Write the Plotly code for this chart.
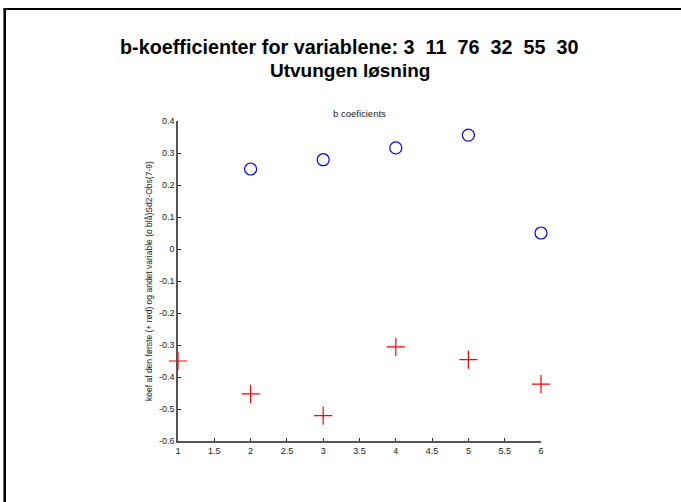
import plotly.graph_objects as go

x_circles = [2, 3, 4, 5, 6]
b_second = [0.25, 0.279, 0.316, 0.356, 0.05]
x_plus = [1, 2, 3, 4, 5, 6]
b_first = [-0.35, -0.453, -0.521, -0.306, -0.346, -0.422]

x_ticks = [1, 1.5, 2, 2.5, 3, 3.5, 4, 4.5, 5, 5.5, 6]
x_ticktext = ["1", "1.5", "2", "2.5", "3", "3.5", "4", "4.5", "5", "5.5", "6"]
y_ticks = [-0.6, -0.5, -0.4, -0.3, -0.2, -0.1, 0, 0.1, 0.2, 0.3, 0.4]
y_ticktext = ["-0.6", "-0.5", "-0.4", "-0.3", "-0.2", "-0.1", "0", "0.1", "0.2", "0.3", "0.4"]

title1 = "b-koefficienter for variablene: 3  11  76  32  55  30"
title2 = "Utvungen løsning"
subtitle = "b coeficients"
ylabel = "koef af den første (+ rød) og andet variable (o blå)Sd2-Obs(7-9)"

W, H = 681, 502
L, R, T, B = 178, 541, 121, 441

fig = go.Figure()
fig.add_trace(go.Scatter(
    x=x_circles, y=b_second, mode="markers", cliponaxis=False,
    marker=dict(symbol="circle-open", size=12, color="#0000ff", line=dict(width=1.2, color="#0000ff")),
    showlegend=False))
fig.add_trace(go.Scatter(
    x=x_plus, y=b_first, mode="markers", cliponaxis=False,
    marker=dict(symbol="cross-thin-open", size=13, color="#ff0000", line=dict(width=1.2, color="#ff0000")),
    showlegend=False))

font = "Liberation Sans, Arial, sans-serif"
axis_common = dict(showgrid=False, zeroline=False, showline=True, linecolor="#555555", linewidth=1.5,
                   ticks="inside", ticklen=3, tickcolor="#333333", tickwidth=1,
                   tickfont=dict(family=font, size=9, color="#222222"), mirror=False)

fig.update_xaxes(range=[1, 6], tickvals=x_ticks, ticktext=x_ticktext, **axis_common)
fig.update_yaxes(range=[-0.6, 0.4], tickvals=y_ticks, ticktext=y_ticktext, **axis_common)

pw, ph = R - L, B - T
def px_to_paper_x(p):
    return (p - L) / pw
def px_to_paper_y(p):
    return (B - p) / ph

fig.update_layout(
    width=W, height=H,
    margin=dict(l=L, r=W - R, t=T, b=H - B, pad=0),
    plot_bgcolor="white", paper_bgcolor="white",
    font=dict(family=font),
    shapes=[
        dict(type="line", xref="paper", yref="paper",
             x0=px_to_paper_x(4.7), x1=px_to_paper_x(W + 5), y0=px_to_paper_y(9), y1=px_to_paper_y(9),
             line=dict(color="black", width=2.2)),
        dict(type="line", xref="paper", yref="paper",
             x0=px_to_paper_x(4.7), x1=px_to_paper_x(4.7), y0=px_to_paper_y(7.9), y1=px_to_paper_y(H + 5),
             line=dict(color="black", width=2.6)),
    ],
    annotations=[
        dict(text="<b>" + title1 + "</b>", xref="paper", yref="paper", x=px_to_paper_x(349), y=px_to_paper_y(47),
             showarrow=False, xanchor="center", yanchor="middle",
             font=dict(family=font, size=19.8, color="black")),
        dict(text="<b>" + title2 + "</b>", xref="paper", yref="paper", x=px_to_paper_x(350), y=px_to_paper_y(70.5),
             showarrow=False, xanchor="center", yanchor="middle",
             font=dict(family=font, size=19, color="black")),
        dict(text=subtitle, xref="paper", yref="paper", x=0.5, y=px_to_paper_y(113),
             showarrow=False, xanchor="center", yanchor="middle",
             font=dict(family=font, size=9.5, color="#222222")),
        dict(text=ylabel, xref="paper", yref="paper", x=px_to_paper_x(149), y=0.5,
             showarrow=False, xanchor="center", yanchor="middle", textangle=-90,
             font=dict(family=font, size=8.5, color="#222222")),
    ],
)

fig.write_html("out.html", config={"displayModeBar": False},
               post_script="document.body.style.margin='0';document.body.style.overflow='hidden';")
